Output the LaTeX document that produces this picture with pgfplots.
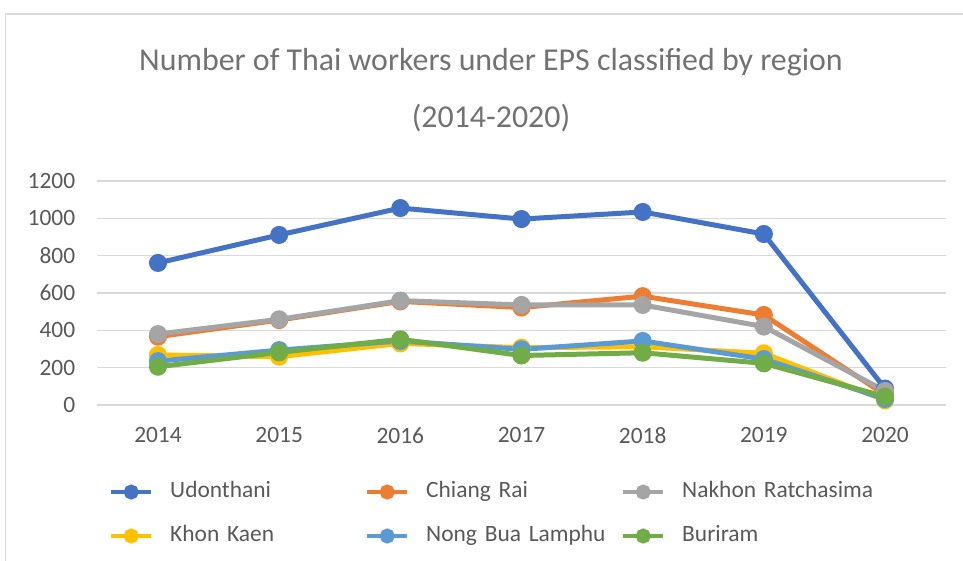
\documentclass[border=0pt]{standalone}
\usepackage{pgfplots}
\pgfplotsset{compat=1.18}
\usepackage{fontspec}
\setmainfont{Carlito}
\newfontfamily\legfont{Carlito}[WordSpace=0.75]
\definecolor{cUdon}{HTML}{4472C4}
\definecolor{cChiang}{HTML}{ED7D31}
\definecolor{cNakhon}{HTML}{A5A5A5}
\definecolor{cKhon}{HTML}{FFC000}
\definecolor{cNong}{HTML}{5B9BD5}
\definecolor{cBuri}{HTML}{70AD47}
\definecolor{txt}{HTML}{595959}
\definecolor{gridc}{HTML}{D9D9D9}
\begin{document}
\begin{tikzpicture}[x=1bp,y=1bp]
\useasboundingbox (0,0) rectangle (963,561);
\clip (0,0) rectangle (963,561);
\fill[white] (0,0) rectangle (963,561);
\draw[gridc, line width=1.2bp] (5.5,-20) -- (5.5,547) -- (990,547);
\node[font=\fontsize{32}{38}\selectfont, text=txt!85!white] at (491,499) {Number of Thai workers under EPS classified by region};
\node[font=\fontsize{32}{38}\selectfont, text=txt!85!white] at (491,443) {(2014-2020)};
\begin{axis}[
  at={(97.4bp,156bp)}, anchor=south west,
  scale only axis, width=848.2bp, height=224bp,
  xmin=2013.5, xmax=2020.5, ymin=0, ymax=1200,
  xtick={2014,2015,2016,2017,2018,2019,2020},
  ytick={0,200,400,600,800,1000,1200},
  /pgf/number format/assume math mode=true,
  /pgf/number format/set thousands separator={},
  axis line style={draw=none},
  major tick length=0pt,
  xmajorgrids=false, ymajorgrids=true, major grid style={color=gridc, line width=1.2bp},
  ticklabel style={font=\fontsize{23.5}{27}\selectfont, text=txt},
  yticklabel style={anchor=east, inner sep=0pt, xshift=-22bp},
  xticklabel style={anchor=north, inner sep=0pt, yshift=-22bp},
  clip=false,
  every axis plot/.append style={line width=5bp, mark=*, mark size=6.5bp},
  legend image code/.code={\draw[#1, line width=4bp, mark size=5.5bp, mark repeat=2, mark phase=2] plot coordinates {(0bp,0bp) (20bp,0bp) (40bp,0bp)};},
  legend columns=3,
  legend cell align=left,
  legend style={draw=none, fill=none, inner sep=0pt, at={(0.0137,-0.343)}, anchor=north west,
    font=\legfont\fontsize{23.5}{27}\selectfont, text=txt, row sep=24bp,
    nodes={inner xsep=0pt, inner ysep=0pt, text width=195bp, align=left, text height=15bp, text depth=5bp},
    /tikz/every odd column/.append style={column sep=17bp}},
]
\addplot[color=cUdon, mark options={fill=cUdon}] coordinates {(2014,761) (2015,911) (2016,1055) (2017,996) (2018,1034) (2019,916) (2020,88)};
\addlegendentry{\mbox{Udonthani}}
\addplot[color=cChiang, mark options={fill=cChiang}] coordinates {(2014,366) (2015,455) (2016,555) (2017,522) (2018,583) (2019,482) (2020,55)};
\addlegendentry{\mbox{Chiang Rai}}
\addplot[color=cNakhon, mark options={fill=cNakhon}] coordinates {(2014,380) (2015,459) (2016,559) (2017,536) (2018,536) (2019,420) (2020,75)};
\addlegendentry{\mbox{Nakhon Ratchasima}}
\addplot[color=cKhon, mark options={fill=cKhon}] coordinates {(2014,268) (2015,259) (2016,330) (2017,307) (2018,312) (2019,277) (2020,25)};
\addlegendentry{\mbox{Khon Kaen}}
\addplot[color=cNong, mark options={fill=cNong}] coordinates {(2014,235) (2015,294) (2016,343) (2017,298) (2018,343) (2019,246) (2020,32)};
\addlegendentry{\mbox{Nong Bua Lamphu}}
\addplot[color=cBuri, mark options={fill=cBuri}] coordinates {(2014,205) (2015,282) (2016,352) (2017,265) (2018,280) (2019,223) (2020,45)};
\addlegendentry{\mbox{Buriram}}
\end{axis}
\end{tikzpicture}
\end{document}
